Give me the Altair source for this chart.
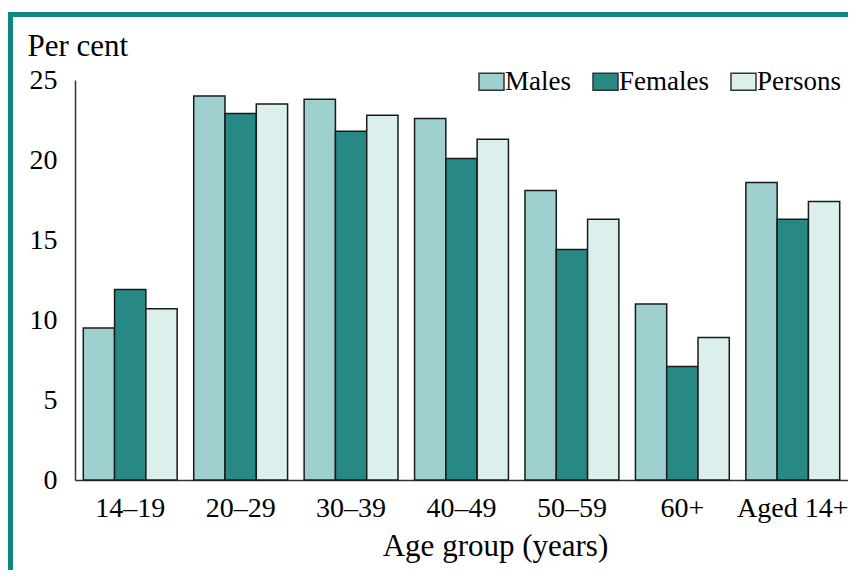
import altair as alt
import pandas as pd

groups = ["14–19", "20–29", "30–39", "40–49", "50–59", "60+", "Aged 14+"]
series = ["Males", "Females", "Persons"]
males = [9.5, 24.0, 23.8, 22.6, 18.1, 11.0, 18.6]
females = [11.9, 22.9, 21.8, 20.1, 14.4, 7.1, 16.3]
persons = [10.7, 23.5, 22.8, 21.3, 16.3, 8.9, 17.4]
colors = ["#9ed0d0", "#288884", "#dbefed"]
y_ticks = [0, 5, 10, 15, 20, 25]

rows = []
for name, vals in zip(series, [males, females, persons]):
    for g, v in zip(groups, vals):
        rows.append({"group": g, "series": name, "value": v})
df = pd.DataFrame(rows)

FONT = "Liberation Serif"
W, H = 773, 400
PL, PT = 67, 72
CW, CH = 840, 562

bars = alt.Chart(df).mark_bar(stroke="#1a1a1a", strokeWidth=1.5).encode(
    x=alt.X("group:N", sort=groups,
            scale=alt.Scale(paddingInner=0.15, paddingOuter=0.075),
            axis=alt.Axis(title="Age group (years)", labelAngle=0, ticks=False,
                          labelPadding=14, domainColor="#333333", domainWidth=1.5,
                          titleX=420, titleY=75, titleBaseline="alphabetic",
                          titleAlign="center", titleFontWeight="normal",
                          titleFontSize=31)),
    xOffset=alt.XOffset("series:N", sort=series),
    y=alt.Y("value:Q", scale=alt.Scale(domain=[0, 25], nice=False),
            axis=alt.Axis(title="Per cent", values=y_ticks, grid=False, ticks=False,
                          labelPadding=18, domainColor="#333333", domainWidth=1.5,
                          titleAngle=0, titleX=-48, titleY=-25, titleAlign="left",
                          titleBaseline="alphabetic", titleFontWeight="normal",
                          titleFontSize=31)),
    color=alt.Color("series:N", sort=series,
                    scale=alt.Scale(domain=series, range=colors),
                    legend=alt.Legend(title=None, orient="none", direction="horizontal",
                                      legendX=403, legendY=-12,
                                      symbolType="M-1,-0.68L1,-0.68L1,0.68L-1,0.68Z",
                                      symbolSize=625, symbolStrokeColor="#333333",
                                      symbolStrokeWidth=1.5, symbolOpacity=1,
                                      labelOffset=0, columnPadding=19,
                                      labelFontSize=27, labelFont=FONT,
                                      labelColor="#000000")),
)

border_df = pd.DataFrame({"a": [0]})
top_border = alt.Chart(border_df).mark_rule(color="#0e877f", strokeWidth=5).encode(
    x=alt.value(-PL), x2=alt.value(CW - PL), y=alt.value(-65.5))
left_border = alt.Chart(border_df).mark_rule(color="#0e877f", strokeWidth=5).encode(
    x=alt.value(-64.5), y=alt.value(-68), y2=alt.value(CH - PT))

chart = alt.layer(bars, top_border, left_border).properties(
    width=W, height=H,
    background="white",
    autosize=alt.AutoSizeParams(type="none"),
    padding={"left": PL, "top": PT, "right": CW - PL - W, "bottom": CH - PT - H},
).configure_view(stroke=None).configure_axis(
    labelFont=FONT, titleFont=FONT, labelFontSize=28,
    labelColor="#000000", titleColor="#000000",
)

chart.save("out.html", embed_options={"renderer": "svg", "actions": False})
